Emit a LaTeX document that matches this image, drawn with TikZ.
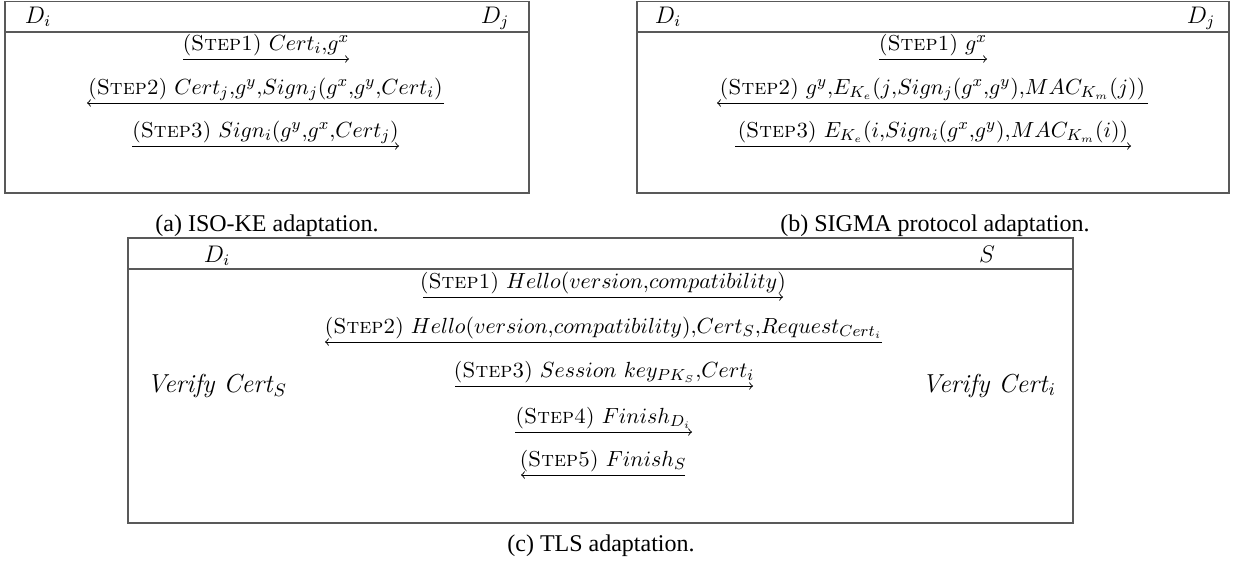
\documentclass[tikz,border=0pt]{standalone}
\usepackage{fontspec}
\newfontfamily\capfont{Liberation Serif}
\begin{document}
\begin{tikzpicture}[x=0.5pt,y=-0.5pt]
\tikzset{
  frame/.style={draw=black!65, line width=0.75pt},
  msg/.style={->, line width=0.45pt},
  lbl/.style={font=\fontsize{10.8}{13}\selectfont, anchor=base, inner sep=0pt, yshift=4.5pt},
  hdr/.style={font=\fontsize{12}{14}\selectfont, anchor=base, inner sep=0pt},
  captext/.style={font=\capfont\fontsize{12}{14}\selectfont, anchor=base, inner sep=0pt},
  vfy/.style={font=\fontsize{13}{15}\selectfont, anchor=base, inner sep=0pt}
}
\useasboundingbox (0,0) rectangle (1241,569);
% ---------- (a) ----------
\draw[frame] (5,1.5) rectangle (529,193);
\draw[frame] (5,32) -- (529,32);
\node[hdr] (aDi) at (38,23) {$D_i$};
\node[hdr] (aDj) at (495,23) {$D_j$};
\coordinate (a1s) at (183,59);  \coordinate (a1e) at (349,59);
\coordinate (a2s) at (87,103);  \coordinate (a2e) at (444,103);
\coordinate (a3s) at (132,146); \coordinate (a3e) at (399,146);
\draw[msg] (a1s) -- node[lbl] (a1l) {(\textsc{Step1}) $Cert_i{,}g^x$} (a1e);
\draw[msg] (a2e) -- node[lbl] (a2l) {(\textsc{Step2}) $Cert_j{,}g^y{,}Sign_j(g^x{,}g^y{,}Cert_i)$} (a2s);
\draw[msg] (a3s) -- node[lbl] (a3l) {(\textsc{Step3}) $Sign_i(g^y{,}g^x{,}Cert_j)$} (a3e);
\node[captext] (capa) at (267,231) {(a) ISO-KE adaptation.};
% ---------- (b) ----------
\draw[frame] (637,1.5) rectangle (1229,193);
\draw[frame] (637,32) -- (1229,32);
\node[hdr] (bDi) at (668,23) {$D_i$};
\node[hdr] (bDj) at (1201,23) {$D_j$};
\coordinate (b1s) at (879,59);  \coordinate (b1e) at (987,59);
\coordinate (b2s) at (717,103); \coordinate (b2e) at (1148,103);
\coordinate (b3s) at (735,146); \coordinate (b3e) at (1131,146);
\draw[msg] (b1s) -- node[lbl] (b1l) {(\textsc{Step1}) $g^x$} (b1e);
\draw[msg] (b2e) -- node[lbl] (b2l) {(\textsc{Step2}) $g^y{,}E_{K_e}(j{,}Sign_j(g^x{,}g^y){,}MAC_{K_m}(j))$} (b2s);
\draw[msg] (b3s) -- node[lbl] (b3l) {(\textsc{Step3}) $E_{K_e}(i{,}Sign_i(g^x{,}g^y){,}MAC_{K_m}(i))$} (b3e);
\node[captext] (capb) at (935,231) {(b) SIGMA protocol adaptation.};
% ---------- (c) ----------
\draw[frame] (128,238) rectangle (1073,523);
\draw[frame] (128,269) -- (1073,269);
\node[hdr] (cDi) at (217,262) {$D_i$};
\node[hdr] (cS) at (987,262) {$S$};
\node[vfy] (vS) at (217,392) {\textit{Verify Cert}$_S$};
\node[vfy] (vi) at (989,392) {\textit{Verify Cert}$_i$};
\coordinate (c1s) at (423,297); \coordinate (c1e) at (783,297);
\coordinate (c2s) at (325,342); \coordinate (c2e) at (882,342);
\coordinate (c3s) at (455,386); \coordinate (c3e) at (753,386);
\coordinate (c4s) at (515,432); \coordinate (c4e) at (692,432);
\coordinate (c5s) at (521,475); \coordinate (c5e) at (685,475);
\draw[msg] (c1s) -- node[lbl] (c1l) {(\textsc{Step1}) $Hello(version{,}compatibility)$} (c1e);
\draw[msg] (c2e) -- node[lbl] (c2l) {(\textsc{Step2}) $Hello(version{,}compatibility){,}Cert_S{,}Request_{Cert_i}$} (c2s);
\draw[msg] (c3s) -- node[lbl] (c3l) {(\textsc{Step3}) $Session\ key_{PK_S}{,}Cert_i$} (c3e);
\draw[msg] (c4s) -- node[lbl] (c4l) {(\textsc{Step4}) $Finish_{D_i}$} (c4e);
\draw[msg] (c5e) -- node[lbl] (c5l) {(\textsc{Step5}) $Finish_S$} (c5s);
\node[captext] (capc) at (601,551) {(c) TLS adaptation.};
\end{tikzpicture}
\end{document}
